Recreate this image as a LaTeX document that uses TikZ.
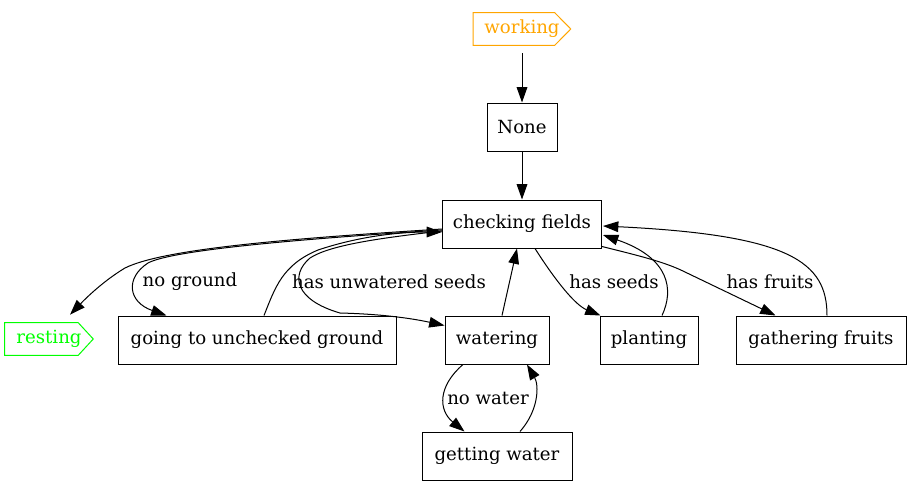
\documentclass[tikz,border=0pt]{standalone}
\usepackage{fontspec}
\setmainfont{DejaVu Serif}
\usetikzlibrary{arrows.meta,calc}
\definecolor{gvorange}{HTML}{FFA500}
\definecolor{gvgreen}{HTML}{00FF00}
\begin{document}
\begin{tikzpicture}[x=0.75pt,y=-0.75pt,
  txt/.style={inner sep=0pt,font=\fontsize{13.6}{16}\selectfont},
  box/.style={txt,draw,line width=0.75pt,minimum height=36pt},
  tag/.style={txt,minimum height=24pt},
  edge/.style={line width=0.75pt,-{Triangle[length=11.5pt,width=8pt]}},
  lbl/.style={txt}]
\useasboundingbox (0,0) rectangle (912,485);

% nodes
\node[tag,text=gvorange,minimum width=72.75pt] (working) at (522,29) {working};
\draw[gvorange,line width=0.75pt] (working.north west) -- ($(working.north east)+(-16,0)$) -- (working.east) -- ($(working.south east)+(-16,0)$) -- (working.south west) -- cycle;
\node[tag,text=gvgreen,minimum width=66pt] (resting) at (49,339) {resting};
\draw[gvgreen,line width=0.75pt] (resting.north west) -- ($(resting.north east)+(-15,0)$) -- (resting.east) -- ($(resting.south east)+(-15,0)$) -- (resting.south west) -- cycle;

\node[box,minimum width=52.5pt] (none) at (522,127) {None};
\node[box,minimum width=119.25pt] (checking) at (522,224) {checking fields};
\node[box,minimum width=208.5pt] (going) at (257,340) {going to unchecked ground};
\node[box,minimum width=78pt] (watering) at (497,340) {watering};
\node[box,minimum width=73.5pt] (planting) at (649,340) {planting};
\node[box,minimum width=127.5pt] (gathering) at (821,340) {gathering fruits};
\node[box,minimum width=112.5pt] (getting) at (497,456) {getting water};

% labels
\node[lbl] (lnoground) at (190,282) {no ground};
\node[lbl] (lunwatered) at (389,282) {has unwatered seeds};
\node[lbl] (lseeds) at (614,282) {has seeds};
\node[lbl] (lfruits) at (770,282) {has fruits};
\node[lbl] (lnowater) at (488,398) {no water};

% edges
\draw[edge] ($(working.south)+(0,8)$) -- (none.north);
\draw[edge] (none.south) -- (checking.north);
\draw[edge] ($(checking.west)+(0,5)$) .. controls (300,238) and (165,248) .. (125,268)
  .. controls (105,280) and (88,296) .. ($(resting.north)+(21,-8)$);
\draw[edge] ($(checking.west)+(0,6)$) .. controls (300,239) and (172,250) .. (148,263)
  .. controls (125,278) and (128,302) .. ($(going.north west)+(49,0)$);
\draw[edge] ($(going.north)+(7,0)$) .. controls (275,288) and (282,265) .. (318,250)
  .. controls (360,236) and (400,232) .. ($(checking.west)+(0,8)$);
\draw[edge] ($(checking.west)+(0,7)$) .. controls (380,238) and (330,245) .. (310,258)
  .. controls (290,275) and (295,300) .. (340,313)
  .. controls (380,314) and (410,318) .. ($(watering.north west)+(0,10)$);
\draw[edge] ($(watering.north)+(5,0)$) -- ($(checking.south)+(-5,0)$);
\draw[edge] ($(checking.south)+(13,0)$) .. controls (555,280) and (575,305) .. ($(planting.north west)+(1,0)$);
\draw[edge] ($(planting.north)+(13,0)$) .. controls (674,290) and (670,258) .. ($(checking.east)+(1,11)$);
\draw[edge] ($(checking.south east)+(0,-2)$) .. controls (640,256) and (665,262) .. (685,272)
  -- ($(gathering.north west)+(40,0)$);
\draw[edge] ($(gathering.north)+(6,0)$) .. controls (827,262) and (790,235) .. ($(checking.east)+(1,2)$);
\draw[edge] ($(watering.south)+(-34,0)$) .. controls (438,386) and (438,410) .. ($(getting.north west)+(43,0)$);
\draw[edge] ($(getting.north)+(23,0)$) .. controls (539,410) and (539,385) .. ($(watering.south)+(30,0)$);
\end{tikzpicture}
\end{document}
